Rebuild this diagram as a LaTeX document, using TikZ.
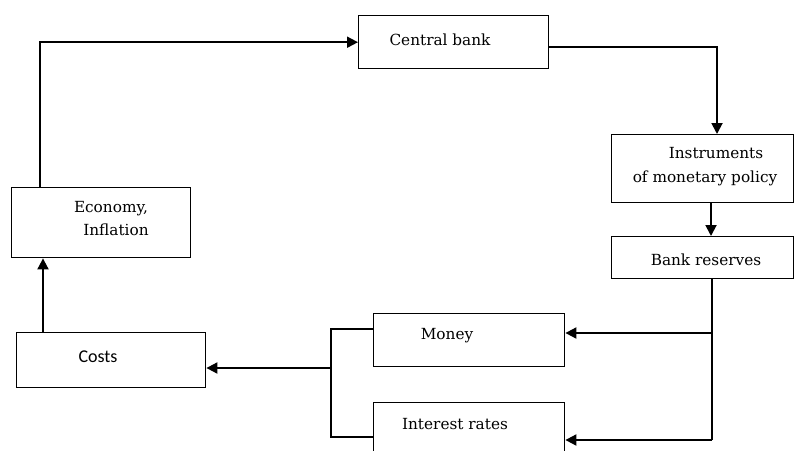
\documentclass[tikz,border=0pt]{standalone}
\usepackage{fontspec}
\setmainfont{DejaVu Serif}
\newfontfamily\costsfont{Carlito}
\usetikzlibrary{arrows.meta}
\begin{document}
\begin{tikzpicture}[x=1pt,y=-1pt,
  box/.style={draw, line width=1.4pt, inner sep=0pt, anchor=north west},
  lbl/.style={inner sep=0pt, font=\fontsize{15.3}{18}\selectfont},
  conn/.style={line width=1.9pt},
  arr/.style={conn, -{Triangle[length=11pt,width=11pt]}}]
\useasboundingbox (0,0) rectangle (794,450);
% boxes
\node[box, minimum width=190pt, minimum height=53pt] (cb) at (358,15) {};
\node[box, minimum width=179pt, minimum height=70pt] (econ) at (11,187) {};
\node[box, minimum width=189pt, minimum height=55pt] (costs) at (16,332) {};
\node[box, minimum width=191pt, minimum height=53pt] (money) at (373,313) {};
\node[box, minimum width=191pt, minimum height=70pt] (ir) at (373,402) {};
\node[box, minimum width=182pt, minimum height=68pt] (instr) at (611,134) {};
\node[box, minimum width=182pt, minimum height=42pt] (br) at (611,236) {};
% texts
\node[lbl] (tcb) at (440,40) {Central bank};
\node[lbl] (te1) at (111,209) {Economy,};
\node[lbl] (te2) at (116,230) {Inflation};
\node[lbl, font=\costsfont\fontsize{18}{20}\selectfont] (tco) at (98,357) {Costs};
\node[lbl] (tmo) at (447,336) {Money};
\node[lbl] (tir) at (455,424) {Interest rates};
\node[lbl] (tbr) at (706,260) {Bank reserves};
\node[lbl] (ti1) at (716,153) {Instruments};
\node[lbl] (ti2) at (705,178) {of monetary policy};
% coordinates
\coordinate (c40) at (40,0);
\coordinate (c43) at (43,0);
\coordinate (c47) at (0,47);
\coordinate (c717) at (717,0);
\coordinate (c711) at (711,0);
\coordinate (j1) at (712,333);
\coordinate (j2) at (712,440);
\coordinate (b1) at (331,329);
\coordinate (b2) at (331,437);
\coordinate (k) at (331,368);
% connectors
\draw[arr] (econ.north -| c40) |- (cb.west);
\draw[arr] (cb.east |- c47) -| (instr.north -| c717);
\draw[arr] (instr.south -| c711) -- (br.north -| c711);
\draw[conn] (br.south -| j1) -- (j2);
\draw[arr] (j1) -- (j1 -| money.east);
\draw[arr] (j2) -- (j2 -| ir.east);
\draw[conn] (money.west |- b1) -- (b1) -- (b2) -- (ir.west |- b2);
\draw[arr] (k) -- (k -| costs.east);
\draw[arr] (costs.north -| c43) -- (econ.south -| c43);
\end{tikzpicture}
\end{document}
